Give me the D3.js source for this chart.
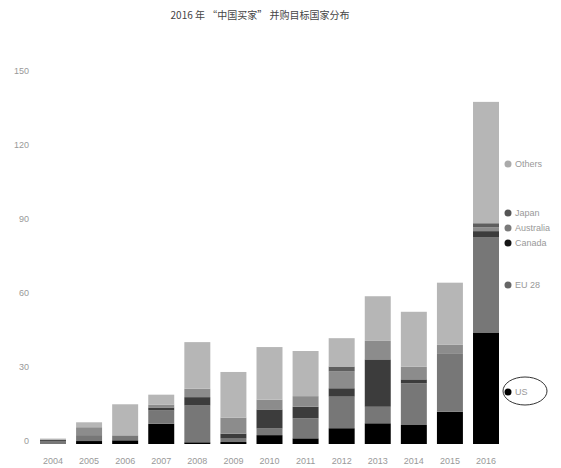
<!DOCTYPE html>
<html>
<head>
<meta charset="utf-8">
<script src="https://cdn.jsdelivr.net/npm/d3@7"></script>
<style>
    body { margin: 0; background: #fff; }
    text { font-family: "Liberation Sans", "DejaVu Sans", sans-serif; }
</style>
</head>
<body>
<div id="chart"></div>
<script>
const years = ["2004", "2005", "2006", "2007", "2008", "2009", "2010", "2011", "2012", "2013", "2014", "2015", "2016"]
const seriesNames = ["US", "EU 28", "Canada", "Australia", "Japan", "Others"]
const us = [0, 1.2, 1.5, 8.2, 0.7, 0.8, 3.6, 2.3, 6.4, 8.4, 7.7, 13.1, 45]
const eu28 = [1.2, 2.4, 2, 5.4, 14.9, 1.4, 2.7, 8.1, 12.8, 6.7, 16.9, 23.7, 38.9]
const canada = [0.4, 0, 0, 1.2, 3.4, 2, 7.7, 4.7, 3.4, 19.2, 1.6, 0, 2.4]
const australia = [0, 3.2, 0, 1.2, 3.4, 6.5, 4, 4.3, 6.8, 7.5, 5.1, 3.4, 1.6]
const japan = [0, 0, 0, 0, 0, 0, 0, 0, 2, 0, 0, 0, 1.6]
const others = [0.6, 2, 12.6, 4, 18.9, 18.5, 21.3, 18.3, 11.5, 18.1, 22.3, 25.2, 49.2]
const yTicks = [0, 30, 60, 90, 120, 150]
const title = "2016 年 “中国买家” 并购目标国家分布"

const colors = {
    "US": "#000000",
    "EU 28": "#777777",
    "Canada": "#3c3c3c",
    "Australia": "#8c8c8c",
    "Japan": "#5e5e5e",
    "Others": "#b6b6b6"
}
const dotColors = {
    "US": "#000000",
    "EU 28": "#666666",
    "Canada": "#151515",
    "Australia": "#7a7a7a",
    "Japan": "#555555",
    "Others": "#aaaaaa"
}
// legend labels sit next to the 2016 bar, spread apart where segments are thin
const labelY = { "Others": 164, "Japan": 213, "Australia": 228, "Canada": 243, "EU 28": 285, "US": 392 }

const table = years.map((year, i) => ({
    year,
    "US": us[i],
    "EU 28": eu28[i],
    "Canada": canada[i],
    "Australia": australia[i],
    "Japan": japan[i],
    "Others": others[i]
}))

const width = 561, height = 468

const svg = d3.select("#chart").append("svg")
    .attr("width", width)
    .attr("height", height)

const x = d3.scaleBand()
    .domain(years)
    .range([40, 499])
    .paddingInner(0.28)
    .paddingOuter(0)

const y = d3.scaleLinear()
    .domain([0, 150])
    .range([444, 74])

const stacked = d3.stack().keys(seriesNames)(table)

svg.append("g")
    .selectAll("g")
    .data(stacked)
    .join("g")
    .attr("fill", d => colors[d.key])
    .selectAll("rect")
    .data(d => d)
    .join("rect")
    .attr("x", d => x(d.data.year))
    .attr("y", d => y(d[1]))
    .attr("width", x.bandwidth())
    .attr("height", d => Math.max(0, y(d[0]) - y(d[1])))

// y axis
const yAxis = svg.append("g")
    .attr("transform", "translate(32,-3)")
    .call(d3.axisLeft(y).tickValues(yTicks).tickSize(0).tickPadding(3))
yAxis.select(".domain").remove()
yAxis.selectAll("text")
    .attr("fill", "#999")
    .style("font-size", "9px")

// x axis
const xAxis = svg.append("g")
    .attr("transform", `translate(0,${y(0)})`)
    .call(d3.axisBottom(x).tickSize(0).tickPadding(14))
xAxis.select(".domain").remove()
xAxis.selectAll("text")
    .attr("fill", "#999")
    .style("font-size", "9px")

// labels beside the last bar
const legendX = x("2016") + x.bandwidth() + 9
const legend = svg.append("g")
    .selectAll("g")
    .data(seriesNames)
    .join("g")
    .attr("transform", d => `translate(${legendX},${labelY[d]})`)

legend.append("circle")
    .attr("r", 3.5)
    .attr("fill", d => dotColors[d])

legend.append("text")
    .attr("x", 7)
    .attr("dy", "0.35em")
    .attr("fill", "#999")
    .style("font-size", "9px")
    .text(d => d)

svg.append("ellipse")
    .attr("cx", legendX + 17)
    .attr("cy", labelY["US"] - 1)
    .attr("rx", 22)
    .attr("ry", 14)
    .attr("fill", "none")
    .attr("stroke", "#333")
    .attr("stroke-width", 1)

svg.append("text")
    .attr("x", 260)
    .attr("y", 19)
    .attr("text-anchor", "middle")
    .attr("fill", "#444")
    .style("font-family", "'Noto Sans CJK SC', sans-serif")
    .style("font-size", "10px")
    .text(title)
</script>
</body>
</html>
